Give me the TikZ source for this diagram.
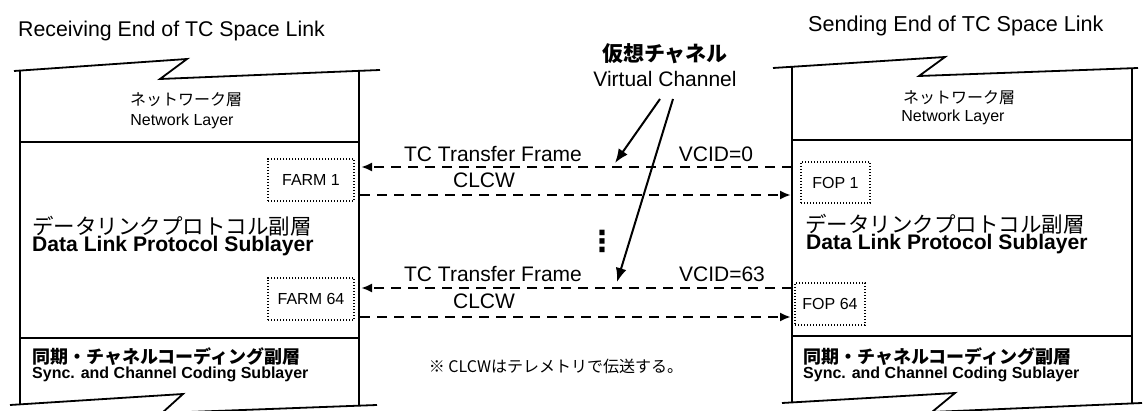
\documentclass[tikz,border=0pt]{standalone}
\usepackage{fontspec}
\setmainfont{Liberation Sans}
\newfontfamily\jp{Noto Sans CJK JP}
\newfontfamily\dv{DejaVu Sans}
\usetikzlibrary{arrows.meta}
\newcommand{\fs}[1]{\fontsize{#1}{#1}\selectfont}
\begin{document}
\begin{tikzpicture}[x=1pt,y=-1pt,
  frame/.style={line width=1.8pt, line join=miter},
  flow/.style={line width=2.2pt, dash pattern=on 10pt off 7pt, -{Latex[length=11pt,width=9pt]}},
  entity/.style={draw, line width=1.4pt, dash pattern=on 1.4pt off 1.6pt, inner sep=0pt, font=\fs{16}},
  ptr/.style={line width=2pt, -{Latex[length=14pt,width=11pt]}},
  lbl/.style={anchor=base, font=\fs{21}, inner sep=0pt},
  jlabel/.style={font=\jp, inner sep=0pt},
  elabel/.style={anchor=base west, inner sep=0pt},
]
\useasboundingbox (0,0) rectangle (1143,411);

% ---------- left stack ----------
\draw[frame] (14,71) -- (187,59) -- (160,79) -- (380,70);
\draw[frame] (10,405) -- (183,394) -- (162,413) -- (377,405);
\draw[frame] (20,70.6) -- (20,404.4);
\draw[frame] (359,70.9) -- (359,405.6);
\draw[frame] (20,142) -- (359,142);
\draw[frame] (20,338) -- (359,338);

% ---------- right stack ----------
\draw[frame] (773,68) -- (945,57) -- (919,76) -- (1138,68);
\draw[frame] (782,403) -- (955,393) -- (932,412) -- (1142,403);
\draw[frame] (792,66.8) -- (792,402.4);
\draw[frame] (1132,68.2) -- (1132,403.4);
\draw[frame] (792,140) -- (1132,140);
\draw[frame] (792,336) -- (1132,336);

% ---------- titles ----------
\node[elabel, font=\fs{21.3}] (ttl) at (18,37) {Receiving End of TC Space Link};
\node[elabel, font=\fs{21.6}] (ttr) at (808,32) {Sending End of TC Space Link};

% ---------- network layer ----------
\node[jlabel, font=\jp\fs{16}] (nlj) at (186,100) {ネットワーク層};
\node[anchor=base, inner sep=0pt, font=\fs{16}] (nle) at (182,126) {Network Layer};
\node[jlabel, font=\jp\fs{16}] (nrj) at (959,98) {ネットワーク層};
\node[anchor=base, inner sep=0pt, font=\fs{16}] (nre) at (953,122) {Network Layer};

% ---------- data link ----------
\node[jlabel, anchor=base west, font=\jp\fs{21.5}] (dlj) at (32,235) {データリンクプロトコル副層};
\node[elabel, font=\bfseries\fs{21.1}] (dle) at (32,252) {Data Link Protocol Sublayer};
\node[jlabel, anchor=base west, font=\jp\fs{21.5}] (drj) at (805,233) {データリンクプロトコル副層};
\node[elabel, font=\bfseries\fs{21.1}] (dre) at (806,250) {Data Link Protocol Sublayer};

% ---------- sync ----------
\node[jlabel, anchor=base west, font=\jp\bfseries\fs{18}] (slj) at (32,364) {同期・チャネルコーディング副層};
\node[elabel, font=\bfseries\fs{16}] (sle) at (32,378) {Sync. and Channel Coding Sublayer};
\node[jlabel, anchor=base west, font=\jp\bfseries\fs{18}] (srj) at (803,364) {同期・チャネルコーディング副層};
\node[elabel, font=\bfseries\fs{16}] (sre) at (803,378) {Sync. and Channel Coding Sublayer};

% ---------- FARM / FOP ----------
\node[entity, minimum width=86pt, minimum height=42pt] (farm1) at (311,180) {FARM 1};
\node[entity, minimum width=86pt, minimum height=42pt] (farm64) at (311,299) {FARM 64};
\node[entity, minimum width=69pt, minimum height=41pt] (fop1) at (835.5,182.5) {FOP 1};
\node[entity, minimum width=70pt, minimum height=42pt] (fop64) at (830,304) {FOP 64};

% ---------- flows ----------
\coordinate (rA) at (792,167);  \coordinate (lA) at (361,167);
\coordinate (lB) at (360,195);  \coordinate (rB) at (791,195);
\coordinate (rC) at (792,288);  \coordinate (lC) at (361,288);
\coordinate (lD) at (360,317);  \coordinate (rD) at (791,317);
\draw[flow] (rA) -- (lA);
\draw[flow] (lB) -- (rB);
\draw[flow] (rC) -- (lC);
\draw[flow] (lD) -- (rD);

\node[lbl] (tc1) at (493,162) {TC Transfer Frame};
\node[lbl] (cl1) at (484,188) {CLCW};
\node[lbl] (vc0) at (716,162) {VCID=0};
\node[lbl] (tc2) at (493,282) {TC Transfer Frame};
\node[lbl] (cl2) at (484,309) {CLCW};
\node[lbl] (vc63) at (722,282) {VCID=63};

\node[inner sep=0pt, font=\dv\bfseries\fs{29}] (dots) at (602,241) {⋮};

% ---------- virtual channel ----------
\node[jlabel, font=\jp\bfseries\fs{21}] (vcj) at (665,54) {仮想チャネル};
\node[lbl] (vce) at (665,87) {Virtual Channel};
\coordinate (vs1) at (660,99); \coordinate (vt1) at (615,163);
\coordinate (vs2) at (673,99); \coordinate (vt2) at (617,282);
\draw[ptr] (vs1) -- (vt1);
\draw[ptr] (vs2) -- (vt2);

% ---------- note ----------
\node[inner sep=0pt, font=\jp\fs{16}] (note) at (556,366) {※ CLCWはテレメトリで伝送する。};
\end{tikzpicture}
\end{document}
